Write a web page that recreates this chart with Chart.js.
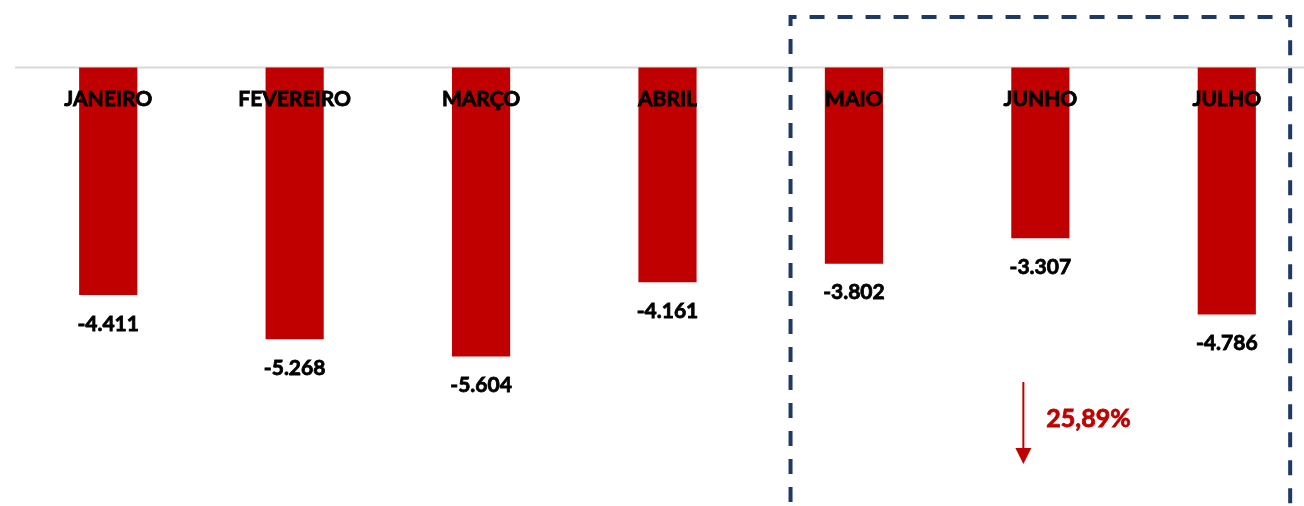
<!DOCTYPE html>
<html>
<head>
<meta charset="utf-8">
<script src="https://cdn.jsdelivr.net/npm/chart.js@4.4.1/dist/chart.umd.min.js"></script>
<style>
  html, body { margin: 0; padding: 0; background: #fff; overflow: hidden; }
  #wrap { width: 1320px; height: 506px; }
</style>
</head>
<body>
<div id="wrap"><canvas id="chart" width="1320" height="506"></canvas></div>
<script>
// months and values (thousands)
const months = ['JANEIRO', 'FEVEREIRO', 'MARÇO', 'ABRIL', 'MAIO', 'JUNHO', 'JULHO'];
const values = [-4.411, -5.268, -5.604, -4.161, -3.802, -3.307, -4.786];
const valueLabels = ['-4.411', '-5.268', '-5.604', '-4.161', '-3.802', '-3.307', '-4.786'];
const highlightFrom = 4; // MAIO .. JULHO
const highlightText = '25,89%';

const RED = '#c00000';
const NAVY = '#1f3864';
const FONT = 'Lato, "Open Sans", sans-serif';

// bold text with a thin outline so it reads as heavy as the original
function heavyText(ctx, text, x, y) {
  ctx.strokeText(text, x, y);
  ctx.fillText(text, x, y);
}

const overlay = {
  id: 'overlay',
  beforeDatasetsDraw(chart) {
    const { ctx, chartArea, scales } = chart;
    const y0 = scales.y.getPixelForValue(0);
    ctx.save();
    ctx.strokeStyle = '#d9d9d9';
    ctx.lineWidth = 2;
    ctx.beginPath();
    ctx.moveTo(chartArea.left, y0);
    ctx.lineTo(chartArea.right, y0);
    ctx.stroke();
    ctx.restore();
  },
  afterDatasetsDraw(chart) {
    const { ctx, scales } = chart;
    const meta = chart.getDatasetMeta(0);
    const y0 = scales.y.getPixelForValue(0);
    ctx.save();
    ctx.textAlign = 'center';
    ctx.textBaseline = 'middle';
    ctx.fillStyle = '#000';
    ctx.strokeStyle = '#000';
    ctx.lineWidth = 0.8;
    ctx.font = 'bold 21px ' + FONT;
    meta.data.forEach((bar, i) => {
      heavyText(ctx, months[i], bar.x, y0 + 32);
    });
    meta.data.forEach((bar, i) => {
      heavyText(ctx, valueLabels[i], bar.x, bar.y + 29);
    });

    // dashed highlight box
    const step = scales.x.getPixelForValue(1) - scales.x.getPixelForValue(0);
    const left = scales.x.getPixelForValue(highlightFrom) - step * 0.34;
    const right = scales.x.getPixelForValue(months.length - 1) + step * 0.34;
    ctx.strokeStyle = NAVY;
    ctx.lineWidth = 4;
    ctx.setLineDash([15, 13]);
    ctx.beginPath();
    ctx.moveTo(left, 530);
    ctx.lineTo(left, 17);
    ctx.lineTo(right, 17);
    ctx.lineTo(right, 530);
    ctx.stroke();
    ctx.setLineDash([]);

    // arrow + percent
    const ax = scales.x.getPixelForValue(5) - 17;
    ctx.strokeStyle = RED;
    ctx.fillStyle = RED;
    ctx.lineWidth = 2;
    ctx.beginPath();
    ctx.moveTo(ax, 382);
    ctx.lineTo(ax, 450);
    ctx.stroke();
    ctx.beginPath();
    ctx.moveTo(ax - 8, 448);
    ctx.lineTo(ax + 8, 448);
    ctx.lineTo(ax, 464);
    ctx.closePath();
    ctx.fill();
    ctx.font = 'bold 25px ' + FONT;
    ctx.textAlign = 'left';
    ctx.lineWidth = 0.8;
    heavyText(ctx, highlightText, ax + 23, 419);
    ctx.restore();
  }
};

new Chart(document.getElementById('chart'), {
  type: 'bar',
  data: {
    labels: months,
    datasets: [{
      data: values,
      backgroundColor: RED,
      borderWidth: 0,
      categoryPercentage: 1,
      barPercentage: 0.312
    }]
  },
  options: {
    responsive: false,
    animation: false,
    layout: { padding: { left: 15, right: 0, top: 0, bottom: 0 } },
    scales: {
      x: { display: false },
      y: { display: false, min: -8.5, max: 1.31 }
    },
    plugins: {
      legend: { display: false },
      tooltip: { enabled: false }
    }
  },
  plugins: [overlay]
});
</script>
</body>
</html>
